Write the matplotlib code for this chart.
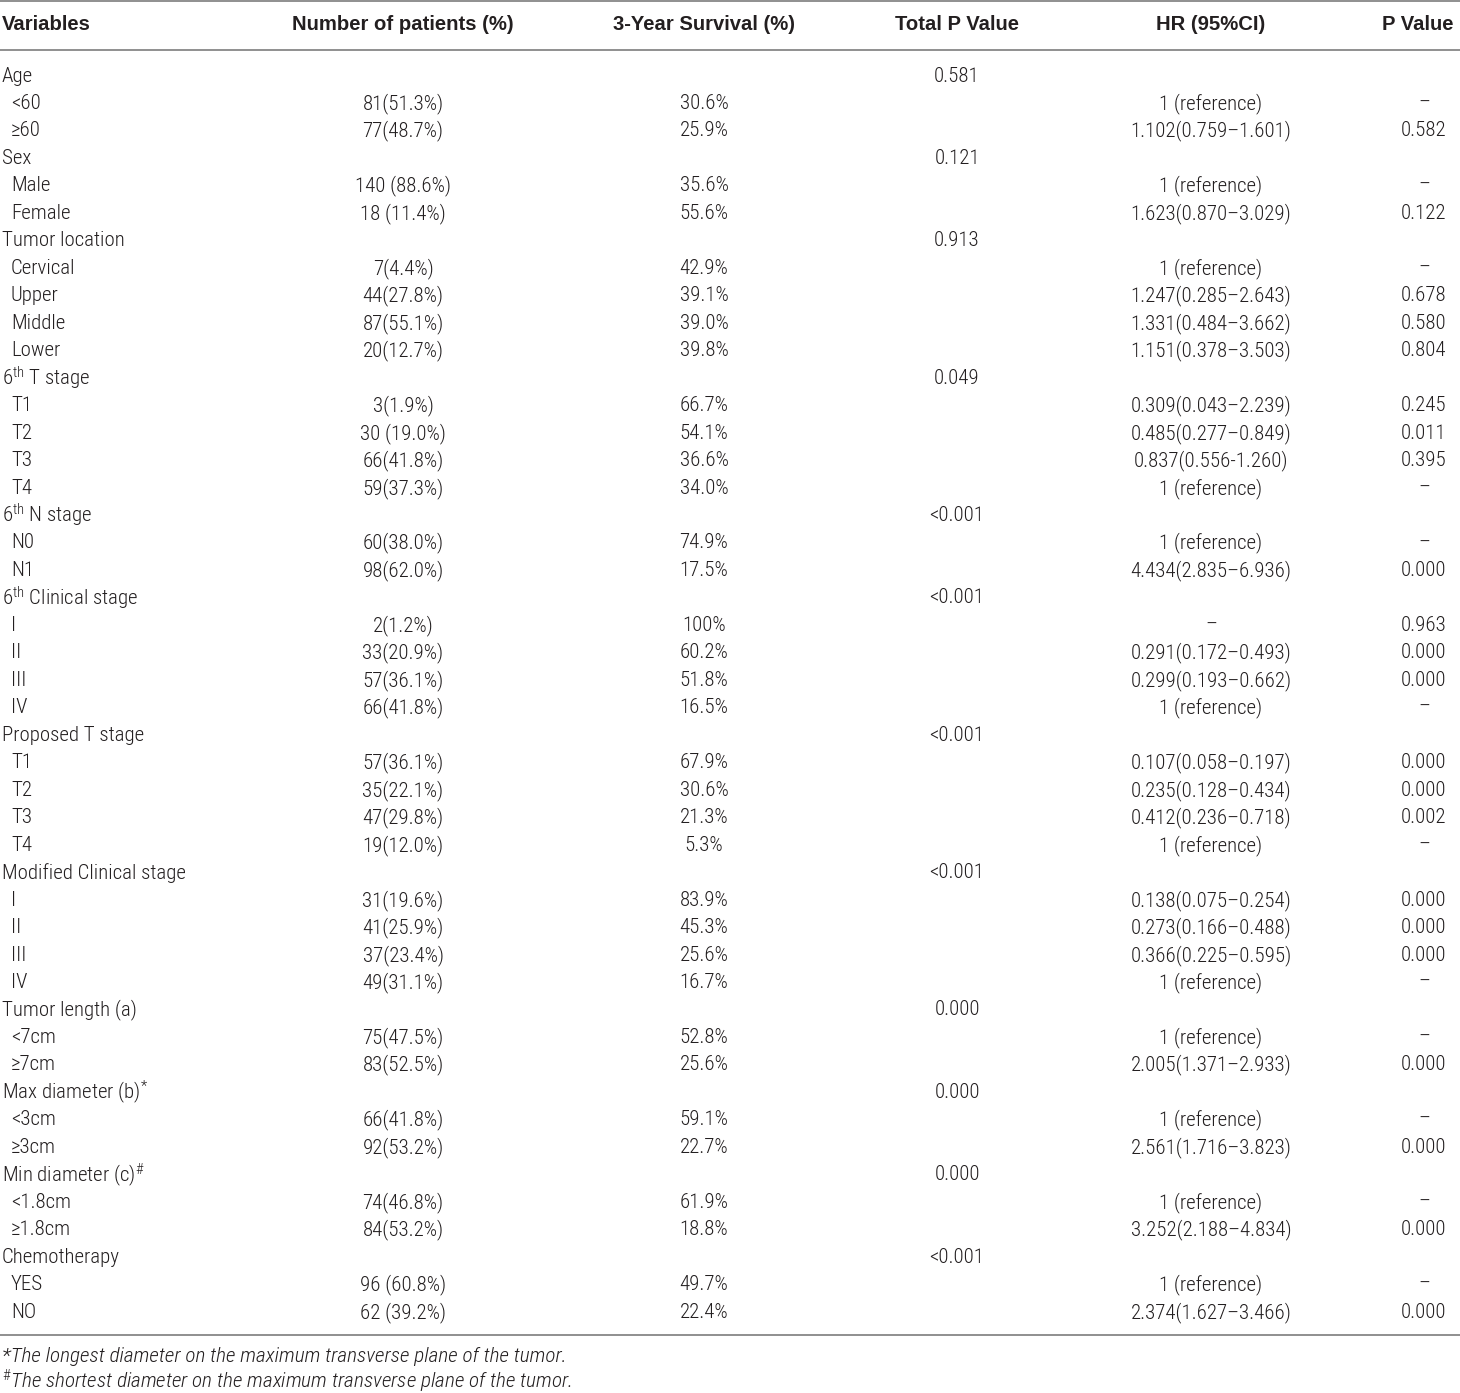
import matplotlib
matplotlib.use("Agg")
import matplotlib.pyplot as plt
from matplotlib import font_manager

# ---------------- data ----------------
headers = ["Variables", "Number of patients (%)", "3-Year Survival (%)",
           "Total P Value", "HR (95%CI)", "P Value"]

variables = [
    "Age", "<60", "≥60",
    "Sex", "Male", "Female",
    "Tumor location", "Cervical", "Upper", "Middle", "Lower",
    "6$^{\\mathrm{th}}$ T stage", "T1", "T2", "T3", "T4",
    "6$^{\\mathrm{th}}$ N stage", "N0", "N1",
    "6$^{\\mathrm{th}}$ Clinical stage", "I", "II", "III", "IV",
    "Proposed T stage", "T1", "T2", "T3", "T4",
    "Modified Clinical stage", "I", "II", "III", "IV",
    "Tumor length (a)", "<7cm", "≥7cm",
    "Max diameter (b)$^{*}$", "<3cm", "≥3cm",
    "Min diameter (c)$^{\\#}$", "<1.8cm", "≥1.8cm",
    "Chemotherapy", "YES", "NO",
]
is_group = [
    1, 0, 0,
    1, 0, 0,
    1, 0, 0, 0, 0,
    1, 0, 0, 0, 0,
    1, 0, 0,
    1, 0, 0, 0, 0,
    1, 0, 0, 0, 0,
    1, 0, 0, 0, 0,
    1, 0, 0,
    1, 0, 0,
    1, 0, 0,
    1, 0, 0,
]
n_patients = [
    "", "81(51.3%)", "77(48.7%)",
    "", "140 (88.6%)", "18 (11.4%)",
    "", "7(4.4%)", "44(27.8%)", "87(55.1%)", "20(12.7%)",
    "", "3(1.9%)", "30 (19.0%)", "66(41.8%)", "59(37.3%)",
    "", "60(38.0%)", "98(62.0%)",
    "", "2(1.2%)", "33(20.9%)", "57(36.1%)", "66(41.8%)",
    "", "57(36.1%)", "35(22.1%)", "47(29.8%)", "19(12.0%)",
    "", "31(19.6%)", "41(25.9%)", "37(23.4%)", "49(31.1%)",
    "", "75(47.5%)", "83(52.5%)",
    "", "66(41.8%)", "92(53.2%)",
    "", "74(46.8%)", "84(53.2%)",
    "", "96 (60.8%)", "62 (39.2%)",
]
survival = [
    "", "30.6%", "25.9%",
    "", "35.6%", "55.6%",
    "", "42.9%", "39.1%", "39.0%", "39.8%",
    "", "66.7%", "54.1%", "36.6%", "34.0%",
    "", "74.9%", "17.5%",
    "", "100%", "60.2%", "51.8%", "16.5%",
    "", "67.9%", "30.6%", "21.3%", "5.3%",
    "", "83.9%", "45.3%", "25.6%", "16.7%",
    "", "52.8%", "25.6%",
    "", "59.1%", "22.7%",
    "", "61.9%", "18.8%",
    "", "49.7%", "22.4%",
]
total_p = [
    "0.581", "", "",
    "0.121", "", "",
    "0.913", "", "", "", "",
    "0.049", "", "", "", "",
    "<0.001", "", "",
    "<0.001", "", "", "", "",
    "<0.001", "", "", "", "",
    "<0.001", "", "", "", "",
    "0.000", "", "",
    "0.000", "", "",
    "0.000", "", "",
    "<0.001", "", "",
]
hr_ci = [
    "", "1 (reference)", "1.102(0.759–1.601)",
    "", "1 (reference)", "1.623(0.870–3.029)",
    "", "1 (reference)", "1.247(0.285–2.643)", "1.331(0.484–3.662)", "1.151(0.378–3.503)",
    "", "0.309(0.043–2.239)", "0.485(0.277–0.849)", "0.837(0.556-1.260)", "1 (reference)",
    "", "1 (reference)", "4.434(2.835–6.936)",
    "", "–", "0.291(0.172–0.493)", "0.299(0.193–0.662)", "1 (reference)",
    "", "0.107(0.058–0.197)", "0.235(0.128–0.434)", "0.412(0.236–0.718)", "1 (reference)",
    "", "0.138(0.075–0.254)", "0.273(0.166–0.488)", "0.366(0.225–0.595)", "1 (reference)",
    "", "1 (reference)", "2.005(1.371–2.933)",
    "", "1 (reference)", "2.561(1.716–3.823)",
    "", "1 (reference)", "3.252(2.188–4.834)",
    "", "1 (reference)", "2.374(1.627–3.466)",
]
p_value = [
    "", "–", "0.582",
    "", "–", "0.122",
    "", "–", "0.678", "0.580", "0.804",
    "", "0.245", "0.011", "0.395", "–",
    "", "–", "0.000",
    "", "0.963", "0.000", "0.000", "–",
    "", "0.000", "0.000", "0.002", "–",
    "", "0.000", "0.000", "0.000", "–",
    "", "–", "0.000",
    "", "–", "0.000",
    "", "–", "0.000",
    "", "–", "0.000",
]
footnotes = [
    "*The longest diameter on the maximum transverse plane of the tumor.",
    "$^{\\#}$The shortest diameter on the maximum transverse plane of the tumor.",
]

# ---------------- style ----------------
entries = font_manager.fontManager.ttflist
installed = {f.name for f in entries}
main_font = "Liberation Sans"
stretch = "normal"
fs = 14.0
for cand in ["Roboto Condensed", "Liberation Sans Narrow", "Open Sans Condensed",
             "Noto Sans Condensed"]:
    if cand in installed:
        main_font = cand
        fs = 15.0
        break
else:
    for fam in ["Roboto", "Noto Sans", "Open Sans"]:
        if any(f.name == fam and str(f.stretch) in ("condensed", "semi-condensed", "75", "87")
               for f in entries):
            main_font = fam
            stretch = "condensed"
            fs = 15.0
            break

header_font = "Liberation Sans"
body_weight = "light"

plt.rcParams["font.family"] = [main_font, "DejaVu Sans"]
plt.rcParams["font.stretch"] = stretch
plt.rcParams["font.weight"] = body_weight
plt.rcParams["mathtext.fontset"] = "custom"
plt.rcParams["mathtext.rm"] = main_font + ":light"
plt.rcParams["mathtext.it"] = main_font + ":italic:light"
plt.rcParams["mathtext.bf"] = main_font + ":bold"

W, H = 1460, 1393
fig = plt.figure(figsize=(W / 100, H / 100), dpi=100)
ax = fig.add_axes([0, 0, 1, 1])
ax.set_xlim(0, W)
ax.set_ylim(H, 0)
ax.axis("off")

txt_color = "#231f20"
line_color = "#8f8f8f"

# column positions (pixels)
x_var = 2
x_indent = 11
col_centers = [403, 704, 957, 1211, 1424]
header_centers = [403, 704, 957, 1211, 1418]

y_header = 25
y_first = 76
row_h = 27.47

# rules
for y in (1, 50, 1335):
    ax.plot([0, W], [y, y], color=line_color, lw=1.4, solid_capstyle="butt")

# header
hdr_kw = dict(fontsize=14.6, fontweight="bold", color=txt_color,
              family=[header_font, "DejaVu Sans"], fontstretch="normal")
ax.text(x_var, y_header, headers[0], ha="left", va="center", **hdr_kw)
for h, xc in zip(headers[1:], header_centers):
    ax.text(xc, y_header, h, ha="center", va="center", **hdr_kw)

# rows
for i, var in enumerate(variables):
    y = y_first + i * row_h
    xv = x_var if is_group[i] else x_indent
    ax.text(xv, y, var, ha="left", va="center", fontsize=fs,
            fontweight=body_weight, color=txt_color)
    for vals, xc in zip([n_patients, survival, total_p, hr_ci, p_value], col_centers):
        if vals[i]:
            ax.text(xc, y, vals[i], ha="center", va="center",
                    fontsize=fs, fontweight=body_weight, color=txt_color)

# footnotes
for j, note in enumerate(footnotes):
    ax.text(x_var, 1356 + j * 25, note, ha="left", va="center",
            fontsize=15.3, style="italic", fontweight=body_weight,
            color=txt_color)

fig.savefig("out.png", dpi=100)
